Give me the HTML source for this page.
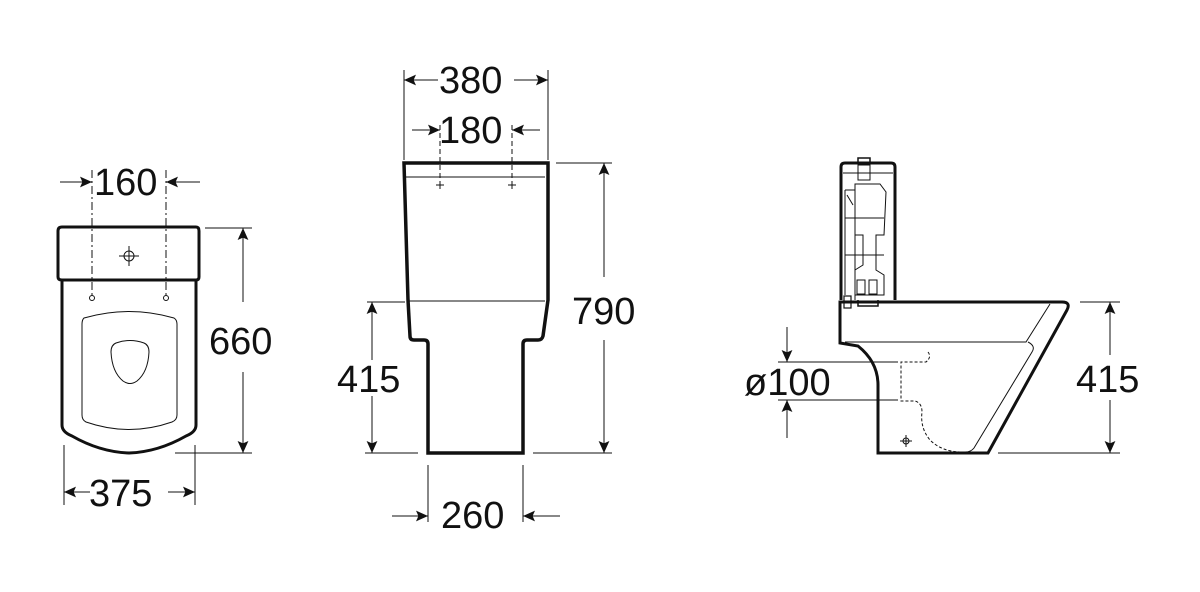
<!DOCTYPE html>
<html><head><meta charset="utf-8"><style>
html,body{margin:0;padding:0;background:#fff;}
svg{display:block}
text{font-family:"Liberation Sans",sans-serif;font-size:38px;fill:#111}
</style></head><body>
<svg width="1200" height="592" viewBox="0 0 1200 592" xmlns="http://www.w3.org/2000/svg">
<defs>
<marker id="a" viewBox="0 0 10 10" refX="10" refY="5" markerWidth="20" markerHeight="12" orient="auto-start-reverse" markerUnits="userSpaceOnUse"><path d="M0,0.5 L10,5 L0,9.5 L2,5 Z" fill="#111"/></marker>
</defs>
<g fill="none" stroke="#111">
<!-- LEFT VIEW -->
<path d="M62,227 L196,227 Q199,227 199,231 L199,277 Q199,280 196,280 L62,280 Q58,280 58,277 L58,231 Q58,227 62,227 Z" stroke-width="3"/>
<path d="M62,280 L62,425 Q62,432 72,436 Q100,452 129,453 Q158,452 186,436 Q196,432 196,425 L196,280" stroke-width="3"/>
<path d="M84,318 Q129,305 174,318 Q177,320 177,324 L177,415 Q177,420 172,422 Q129,437 86,422 Q82,420 82,415 L82,324 Q82,320 84,318 Z" stroke-width="1"/>
<path d="M116,343 Q130,338 144,343 Q149,345 149,352 Q148,372 137,381 Q130,386 123,381 Q112,372 111,352 Q111,345 116,343 Z" stroke-width="1"/>
<circle cx="129" cy="256" r="5" stroke-width="1"/>
<path d="M119,256 L139,256 M129,246 L129,266" stroke-width="1"/>
<circle cx="92" cy="298" r="2.5" stroke-width="1"/><circle cx="166" cy="298" r="2.5" stroke-width="1"/>
<path d="M92,170 L92,295 M166,170 L166,295" stroke-width="1" stroke-dasharray="8,3,2,3"/>
<path d="M60,182 L92,182" stroke-width="1" marker-end="url(#a)"/>
<path d="M200,182 L166,182" stroke-width="1" marker-end="url(#a)"/>
<path d="M205,228 L252,228 M175,453 L252,453" stroke-width="1"/>
<path d="M243,302 L243,228" stroke-width="1" marker-end="url(#a)"/>
<path d="M243,372 L243,453" stroke-width="1" marker-end="url(#a)"/>
<path d="M64,445 L64,505 M195,445 L195,505" stroke-width="1"/>
<path d="M90,492 L64,492" stroke-width="1" marker-end="url(#a)"/>
<path d="M168,492 L195,492" stroke-width="1" marker-end="url(#a)"/>

<!-- MIDDLE VIEW -->
<path d="M406,163 L548,163 L548,300 L543,336 Q542,340 538,340 L527,340 Q523,340 523,344 L523,453 L428,453 L428,344 Q428,340 424,340 L414,340 Q410,340 410,336 L408,300 L404,163 Z" stroke-width="3.5"/>
<path d="M406,177 L545,177" stroke-width="1"/>
<path d="M408,301 L545,301" stroke-width="1"/>
<path d="M440,125 L440,183 M512,125 L512,183" stroke-width="1" stroke-dasharray="5,3"/>
<path d="M436,185 L444,185 M440,181 L440,189 M508,185 L516,185 M512,181 L512,189" stroke-width="1"/>
<path d="M404,70 L404,160 M548,70 L548,160" stroke-width="1"/>
<path d="M438,80 L404,80" stroke-width="1" marker-end="url(#a)"/>
<path d="M514,80 L548,80" stroke-width="1" marker-end="url(#a)"/>
<path d="M412,130 L440,130" stroke-width="1" marker-end="url(#a)"/>
<path d="M540,130 L512,130" stroke-width="1" marker-end="url(#a)"/>
<path d="M556,163 L612,163 M533,453 L612,453 M367,302 L405,302 M365,453 L418,453" stroke-width="1"/>
<path d="M604,277 L604,163" stroke-width="1" marker-end="url(#a)"/>
<path d="M604,340 L604,453" stroke-width="1" marker-end="url(#a)"/>
<path d="M372,360 L372,302" stroke-width="1" marker-end="url(#a)"/>
<path d="M372,396 L372,453" stroke-width="1" marker-end="url(#a)"/>
<path d="M428,465 L428,522 M523,465 L523,522" stroke-width="1"/>
<path d="M392,516 L428,516" stroke-width="1" marker-end="url(#a)"/>
<path d="M560,516 L523,516" stroke-width="1" marker-end="url(#a)"/>

<!-- RIGHT VIEW -->
<path d="M841,300 L841,167 Q841,163 845,163 L891,163 Q895,163 895,167 L895,300" stroke-width="3"/>
<path d="M843,173 L893,173" stroke-width="1"/>
<path d="M858,163 L858,158 L870,158 L870,163" stroke-width="1.5"/>
<rect x="858" y="165" width="12" height="15" stroke-width="1"/>
<path d="M855,184 L880,184 L886,192 L884,235 L876,235 L876,270 L884,275 L884,295 L855,295 L855,270 L863,265 L863,235 L855,235 Z" stroke-width="1"/>
<path d="M845,190 L855,190 L855,300 M845,190 L845,295 M845,218 L884,218 M845,255 L884,255 M847,195 L853,205" stroke-width="1"/>
<rect x="857" y="280" width="8" height="14" stroke-width="1"/><rect x="869" y="280" width="8" height="14" stroke-width="1"/>
<path d="M858,300 L858,306 L878,306 L878,300" stroke-width="1.5"/>
<rect x="844" y="296" width="7" height="12" stroke-width="1.2"/>
<path d="M840,302 L1062,302 Q1071,302 1067,310 L988,453 L878,453 L878,385 Q878,362 858,346 L840,343 Z" stroke-width="3"/>
<path d="M1050,304 L1026,342 L845,342" stroke-width="1"/>
<path d="M1028,342 Q1036,346 1032,352 L974,448 Q971,452 965,452" stroke-width="1"/>
<path d="M928,352 Q932,357 926,362 L901,362 L901,401 L915,401 Q922,403 922,412 Q920,428 930,440 Q942,452 962,452" stroke-width="1" stroke-dasharray="3,2"/>
<circle cx="906" cy="441" r="3" stroke-width="1"/><path d="M900,441 L912,441 M906,435 L906,447" stroke-width="1"/>
<path d="M778,362 L898,362 M778,400 L898,400" stroke-width="1"/>
<path d="M787,327 L787,362" stroke-width="1" marker-end="url(#a)"/>
<path d="M787,438 L787,400" stroke-width="1" marker-end="url(#a)"/>
<path d="M1080,302 L1120,302 M998,453 L1120,453" stroke-width="1"/>
<path d="M1110,355 L1110,302" stroke-width="1" marker-end="url(#a)"/>
<path d="M1110,400 L1110,453" stroke-width="1" marker-end="url(#a)"/>
</g>
<text x="94" y="195">160</text>
<text x="209" y="354">660</text>
<text x="89" y="506">375</text>
<text x="439" y="93">380</text>
<text x="439" y="143">180</text>
<text x="572" y="324">790</text>
<text x="337" y="392">415</text>
<text x="441" y="528">260</text>
<text x="744" y="395">ø100</text>
<text x="1076" y="392">415</text>
</svg>
</body></html>
